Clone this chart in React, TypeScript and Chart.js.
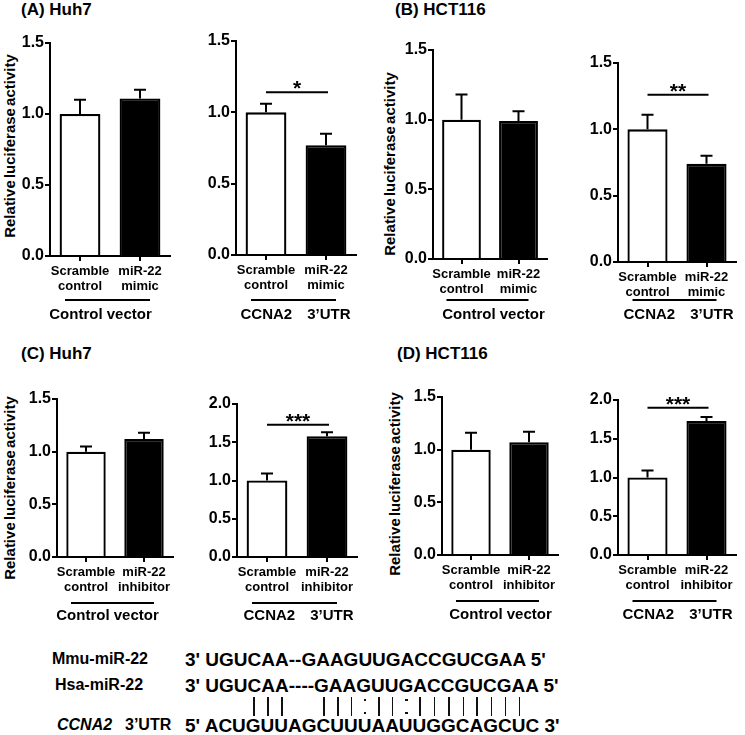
import React, { useEffect, useRef } from 'react';
import { Chart, registerables } from 'chart.js';

Chart.register(...registerables);

const FONT = "'Liberation Sans', Arial, Helvetica, sans-serif";

// ---- categories & labels ----
const mimicLabels = [['Scramble', 'control'], ['miR-22', 'mimic']];
const inhibitorLabels = [['Scramble', 'control'], ['miR-22', 'inhibitor']];
const vectorGroup = ['Control vector'];
const utrGroup = ['CCNA2', '3\u2019UTR'];
const barFills = ['#ffffff', '#000000'];
const yTitle = 'Relative luciferase activity';

// ---- y tick values ----
const ticksTo15 = [0, 0.5, 1.0, 1.5];
const ticksTo20 = [0, 0.5, 1.0, 1.5, 2.0];

// ---- series (mean, error) ----
const aVectorMeans = [1.0, 1.11];
const aVectorErrors = [0.1, 0.06];
const aUtrMeans = [1.0, 0.77];
const aUtrErrors = [0.06, 0.08];
const bVectorMeans = [1.0, 0.99];
const bVectorErrors = [0.18, 0.07];
const bUtrMeans = [1.0, 0.74];
const bUtrErrors = [0.11, 0.06];
const cVectorMeans = [1.0, 1.12];
const cVectorErrors = [0.05, 0.06];
const cUtrMeans = [1.0, 1.58];
const cUtrErrors = [0.09, 0.05];
const dVectorMeans = [1.0, 1.07];
const dVectorErrors = [0.16, 0.1];
const dUtrMeans = [1.0, 1.73];
const dUtrErrors = [0.09, 0.05];

// ---- significance ----
const aUtrSig = { mark: '*', level: 1.14 };
const bUtrSig = { mark: '**', level: 1.26 };
const cUtrSig = { mark: '***', level: 1.73 };
const dUtrSig = { mark: '***', level: 1.9 };

// ---- sequences ----
const mmuName = 'Mmu-miR-22';
const hsaName = 'Hsa-miR-22';
const mmuSeq = "3' UGUCAA--GAAGUUGACCGUCGAA 5'";
const hsaSeq = "3' UGUCAA----GAAGUUGACCGUCGAA 5'";
const targetGene = 'CCNA2';
const targetRegion = '3\u2019UTR';
const targetPrefix = "5' ";
const targetSeq = 'ACUGUUAGCUUUAAUUGGCAGCUC';
const targetSuffix = " 3'";
const pairing = '   |||  |||:||:|||||||| ';

const PAD_TOP = 20;
const Y_BOX = 40;
const PAD_RIGHT = 8;

type PanelCfg = {
  key: string;
  axisX: number;
  axisLen: number;
  yTop: number;
  y0: number;
  bottomY: number;
  groupLineY: number;
  groupLabelY: number;
  groupDx: number;
  max: number;
  ticks: number[];
  labels: string[][];
  means: number[];
  errors: number[];
  sig: { mark: string; level: number } | null;
  group: string[];
};

const panels: PanelCfg[] = [
  { key: 'a1', axisX: 50, axisLen: 120, yTop: 43, y0: 256, bottomY: 332, groupLineY: 300, groupLabelY: 315, groupDx: -7, max: 1.5, ticks: ticksTo15, labels: mimicLabels, means: aVectorMeans, errors: aVectorErrors, sig: null, group: vectorGroup },
  { key: 'a2', axisX: 236, axisLen: 120, yTop: 41, y0: 255, bottomY: 332, groupLineY: 300, groupLabelY: 315, groupDx: 2, max: 1.5, ticks: ticksTo15, labels: mimicLabels, means: aUtrMeans, errors: aUtrErrors, sig: aUtrSig, group: utrGroup },
  { key: 'b1', axisX: 433, axisLen: 114, yTop: 50, y0: 259, bottomY: 332, groupLineY: 300, groupLabelY: 315, groupDx: 6, max: 1.5, ticks: ticksTo15, labels: mimicLabels, means: bVectorMeans, errors: bVectorErrors, sig: null, group: vectorGroup },
  { key: 'b2', axisX: 618, axisLen: 118, yTop: 63, y0: 262, bottomY: 332, groupLineY: 300, groupLabelY: 315, groupDx: 4, max: 1.5, ticks: ticksTo15, labels: mimicLabels, means: bUtrMeans, errors: bUtrErrors, sig: bUtrSig, group: utrGroup },
  { key: 'c1', axisX: 57, axisLen: 116, yTop: 399, y0: 557, bottomY: 634, groupLineY: 603, groupLabelY: 616, groupDx: -5, max: 1.5, ticks: ticksTo15, labels: inhibitorLabels, means: cVectorMeans, errors: cVectorErrors, sig: null, group: vectorGroup },
  { key: 'c2', axisX: 237, axisLen: 120, yTop: 404, y0: 557, bottomY: 634, groupLineY: 603, groupLabelY: 616, groupDx: 4, max: 2.0, ticks: ticksTo20, labels: inhibitorLabels, means: cUtrMeans, errors: cUtrErrors, sig: cUtrSig, group: utrGroup },
  { key: 'd1', axisX: 442, axisLen: 116, yTop: 397, y0: 555, bottomY: 634, groupLineY: 601, groupLabelY: 615, groupDx: 3, max: 1.5, ticks: ticksTo15, labels: inhibitorLabels, means: dVectorMeans, errors: dVectorErrors, sig: null, group: vectorGroup },
  { key: 'd2', axisX: 618, axisLen: 118, yTop: 400, y0: 555, bottomY: 634, groupLineY: 601, groupLabelY: 615, groupDx: 3, max: 2.0, ticks: ticksTo20, labels: inhibitorLabels, means: dUtrMeans, errors: dUtrErrors, sig: dUtrSig, group: utrGroup },
];

function Panel({ cfg }: { cfg: PanelCfg }) {
  const ref = useRef<HTMLCanvasElement>(null);
  const left = cfg.axisX - Y_BOX;
  const top = cfg.yTop - PAD_TOP;
  const width = Y_BOX + cfg.axisLen + PAD_RIGHT;
  const height = cfg.bottomY - top;
  const xBox = height - (cfg.y0 - top);

  useEffect(() => {
    if (!ref.current) return;
    const extras = {
      id: 'extras',
      afterDatasetsDraw(chart: any) {
        const { ctx } = chart;
        const x = chart.scales.x;
        const y = chart.scales.y;
        const c0 = x.getPixelForValue(0);
        const c1 = x.getPixelForValue(1);
        ctx.save();
        ctx.strokeStyle = '#000';
        ctx.fillStyle = '#000';
        ctx.lineWidth = 2;
        cfg.means.forEach((m, i) => {
          const cx = x.getPixelForValue(i);
          const yb = y.getPixelForValue(m);
          const ye = y.getPixelForValue(m + cfg.errors[i]);
          ctx.beginPath();
          ctx.moveTo(cx, yb);
          ctx.lineTo(cx, ye);
          ctx.moveTo(cx - 6, ye);
          ctx.lineTo(cx + 6, ye);
          ctx.stroke();
        });
        if (cfg.sig) {
          const ys = y.getPixelForValue(cfg.sig.level);
          ctx.beginPath();
          ctx.moveTo(c0, ys);
          ctx.lineTo(c1 + 2, ys);
          ctx.stroke();
          ctx.font = `bold 21px ${FONT}`;
          ctx.textAlign = 'center';
          ctx.textBaseline = 'alphabetic';
          ctx.fillText(cfg.sig.mark, (c0 + c1 + 2) / 2, ys + 3);
        }
        const gy = cfg.groupLineY - top;
        const gx0 = c0 - 15;
        const gx1 = c1 + 10;
        ctx.lineWidth = 2.2;
        ctx.beginPath();
        ctx.moveTo(gx0, gy);
        ctx.lineTo(gx1, gy);
        ctx.stroke();
        ctx.font = `bold 15px ${FONT}`;
        ctx.textBaseline = 'middle';
        const mid = (gx0 + gx1) / 2 + cfg.groupDx;
        const ly = cfg.groupLabelY - top;
        if (cfg.group.length === 1) {
          ctx.textAlign = 'center';
          ctx.fillText(cfg.group[0], mid, ly);
        } else {
          const gap = 15;
          const w0 = ctx.measureText(cfg.group[0]).width;
          const w1 = ctx.measureText(cfg.group[1]).width;
          const sx = mid - (w0 + gap + w1) / 2;
          ctx.textAlign = 'left';
          ctx.fillText(cfg.group[0], sx, ly);
          ctx.fillText(cfg.group[1], sx + w0 + gap, ly);
        }
        ctx.restore();
      },
    };

    const axisGrid = {
      display: true,
      drawOnChartArea: false,
      drawTicks: true,
      tickLength: 5,
      color: '#000',
      lineWidth: 2,
    };
    const axisBorder = { display: true, color: '#000', width: 2 };

    const chart = new Chart(ref.current, {
      type: 'bar',
      data: {
        labels: cfg.labels,
        datasets: [
          {
            data: cfg.means,
            backgroundColor: barFills,
            borderColor: '#000',
            borderWidth: 2.3,
            borderSkipped: 'start',
            barPercentage: 0.68,
            categoryPercentage: 1,
          },
        ],
      },
      options: {
        responsive: false,
        animation: false,
        devicePixelRatio: 1,
        layout: { padding: { top: PAD_TOP, right: PAD_RIGHT, left: 0, bottom: 0 } },
        plugins: { legend: { display: false }, tooltip: { enabled: false }, title: { display: false } },
        scales: {
          x: {
            type: 'category',
            offset: true,
            z: 1,
            grid: { ...axisGrid, offset: false },
            border: axisBorder,
            ticks: {
              color: '#000',
              font: { family: FONT, size: 13, weight: 'bold', lineHeight: 1.15 },
              padding: 3,
              maxRotation: 0,
              minRotation: 0,
              autoSkip: false,
            },
            afterFit: (s: any) => {
              s.height = xBox;
            },
          },
          y: {
            min: 0,
            max: cfg.max,
            z: 1,
            grid: axisGrid,
            border: axisBorder,
            afterBuildTicks: (s: any) => {
              s.ticks = cfg.ticks.map((v) => ({ value: v }));
            },
            ticks: {
              color: '#000',
              font: { family: FONT, size: 16, weight: 'bold' },
              padding: 1,
              callback: (v: any) => Number(v).toFixed(1),
            },
            afterFit: (s: any) => {
              s.width = Y_BOX;
            },
          },
        },
      },
      plugins: [extras],
    } as any);
    return () => chart.destroy();
  }, []);

  return (
    <canvas
      ref={ref}
      width={width}
      height={height}
      style={{ position: 'absolute', left, top, width, height }}
    />
  );
}

function Txt(props: {
  x: number;
  cy: number;
  size: number;
  weight?: string;
  italic?: boolean;
  children: React.ReactNode;
}) {
  const { x, cy, size, weight = 'bold', italic = false, children } = props;
  return (
    <div
      style={{
        position: 'absolute',
        left: x,
        top: cy - 0.49 * size,
        fontFamily: FONT,
        fontSize: size,
        fontWeight: weight as any,
        fontStyle: italic ? 'italic' : 'normal',
        lineHeight: `${size}px`,
        whiteSpace: 'pre',
        color: '#000',
      }}
    >
      {children}
    </div>
  );
}

function YTitle({ cx, cy }: { cx: number; cy: number }) {
  return (
    <div
      style={{
        position: 'absolute',
        left: cx,
        top: cy,
        transform: 'translate(-50%, -50%) rotate(-90deg)',
        fontFamily: FONT,
        fontSize: 15,
        fontWeight: 'bold',
        lineHeight: '15px',
        whiteSpace: 'nowrap',
        color: '#000',
        wordSpacing: '-2px',
      }}
    >
      {yTitle}
    </div>
  );
}

const SEQ_X = 185;
const SEQ_SIZE = 19;
const SEQ_WEIGHT = 'bold';

function PairMarks() {
  const c = document.createElement('canvas').getContext('2d');
  const font = `${SEQ_WEIGHT} ${SEQ_SIZE}px ${FONT}`;
  const marks: React.ReactNode[] = [];
  if (c) {
    c.font = font;
    const base = SEQ_X + c.measureText(targetPrefix).width;
    for (let i = 0; i < targetSeq.length; i++) {
      const p = pairing[i];
      if (p !== '|' && p !== ':') continue;
      const cx =
        base + c.measureText(targetSeq.slice(0, i)).width + c.measureText(targetSeq[i]).width / 2;
      if (p === '|') {
        marks.push(
          <div key={i} style={{ position: 'absolute', left: cx - 0.75, top: 697, width: 1.5, height: 19, background: '#111' }} />
        );
      } else {
        marks.push(
          <div key={i + 'a'} style={{ position: 'absolute', left: cx - 1.2, top: 699, width: 2.4, height: 2.4, background: '#111' }} />,
          <div key={i + 'b'} style={{ position: 'absolute', left: cx - 1.2, top: 712, width: 2.4, height: 2.4, background: '#111' }} />
        );
      }
    }
  }
  return <>{marks}</>;
}

export default function App() {
  useEffect(() => {
    document.body.style.margin = '0';
  }, []);
  return (
    <div
      style={{
        position: 'absolute',
        left: 0,
        top: 0,
        width: 745,
        height: 735,
        overflow: 'hidden',
        background: '#fff',
      }}
    >
      <Txt x={21} cy={9} size={17}>(A) Huh7</Txt>
      <Txt x={395} cy={9} size={17}>(B) HCT116</Txt>
      <Txt x={21} cy={353} size={17}>(C) Huh7</Txt>
      <Txt x={397} cy={353} size={17}>(D) HCT116</Txt>

      <YTitle cx={9} cy={146} />
      <YTitle cx={389} cy={164} />
      <YTitle cx={9} cy={488} />
      <YTitle cx={394} cy={484} />

      {panels.map((p) => (
        <Panel key={p.key} cfg={p} />
      ))}

      <Txt x={52} cy={659} size={16}>{mmuName}</Txt>
      <Txt x={55} cy={685} size={16}>{hsaName}</Txt>
      <Txt x={57} cy={725} size={16} italic>{targetGene}</Txt>
      <Txt x={125} cy={725} size={16}>{targetRegion}</Txt>

      <Txt x={SEQ_X} cy={659} size={SEQ_SIZE} weight={SEQ_WEIGHT}>{mmuSeq}</Txt>
      <Txt x={SEQ_X} cy={685} size={SEQ_SIZE} weight={SEQ_WEIGHT}>{hsaSeq}</Txt>
      <Txt x={SEQ_X} cy={725} size={SEQ_SIZE} weight={SEQ_WEIGHT}>{targetPrefix + targetSeq + targetSuffix}</Txt>
      <PairMarks />
    </div>
  );
}
